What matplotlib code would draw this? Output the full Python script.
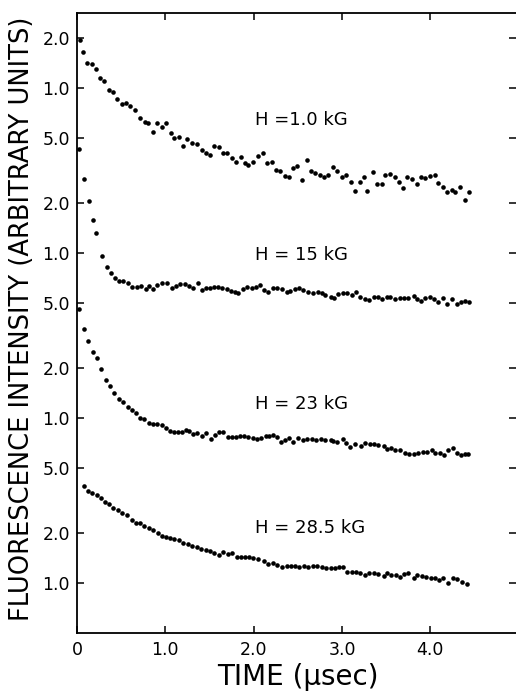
import matplotlib
matplotlib.use("Agg")
import matplotlib.pyplot as plt
from matplotlib.ticker import FixedLocator, FixedFormatter, NullLocator

# ---------------- data ----------------
# H = 1.0 kG
t1 = [0.03, 0.07, 0.11, 0.17, 0.22, 0.26, 0.31, 0.36, 0.41, 0.45,
      0.51, 0.55, 0.60, 0.66, 0.71, 0.77, 0.80, 0.86, 0.91, 0.96,
      1.01, 1.06, 1.10, 1.16, 1.20, 1.25, 1.30, 1.36, 1.42, 1.46,
      1.51, 1.55, 1.61, 1.65, 1.70, 1.76, 1.80, 1.86, 1.90, 1.94,
      1.99, 2.05, 2.11, 2.15, 2.21, 2.25, 2.30, 2.36, 2.40, 2.45,
      2.49, 2.55, 2.60, 2.65, 2.70, 2.75, 2.80, 2.84, 2.90, 2.94,
      3.00, 3.05, 3.10, 3.15, 3.20, 3.25, 3.28, 3.35, 3.40, 3.45,
      3.49, 3.54, 3.60, 3.65, 3.69, 3.74, 3.79, 3.85, 3.90, 3.94,
      4.00, 4.05, 4.09, 4.14, 4.19, 4.24, 4.28, 4.34, 4.39, 4.44]
v1 = [1950, 1650, 1420, 1400, 1300, 1150, 1100, 972, 946, 858,
      800, 811, 778, 736, 658, 622, 614, 541, 614, 580,
      614, 534, 498, 505, 445, 491, 464, 458, 421, 404,
      393, 445, 439, 404, 404, 376, 356, 382, 351, 342,
      356, 387, 404, 351, 356, 318, 314, 293, 289, 327,
      337, 277, 366, 314, 305, 297, 289, 297, 332, 314,
      289, 297, 269, 238, 269, 289, 238, 310, 262, 262,
      297, 301, 289, 269, 248, 289, 281, 262, 289, 285,
      293, 297, 266, 251, 234, 241, 234, 251, 210, 234]

# H = 15 kG
t2 = [0.02, 0.08, 0.14, 0.18, 0.22, 0.28, 0.34, 0.39, 0.43, 0.48,
      0.52, 0.58, 0.62, 0.68, 0.72, 0.78, 0.82, 0.86, 0.91, 0.96,
      1.02, 1.08, 1.12, 1.17, 1.22, 1.27, 1.31, 1.37, 1.42, 1.46,
      1.51, 1.55, 1.60, 1.64, 1.70, 1.74, 1.79, 1.82, 1.88, 1.93,
      1.98, 2.03, 2.07, 2.12, 2.16, 2.22, 2.26, 2.32, 2.38, 2.41,
      2.47, 2.51, 2.56, 2.62, 2.67, 2.73, 2.77, 2.81, 2.87, 2.91,
      2.96, 3.01, 3.06, 3.11, 3.16, 3.20, 3.26, 3.31, 3.36, 3.41,
      3.45, 3.51, 3.54, 3.60, 3.66, 3.70, 3.75, 3.81, 3.85, 3.90,
      3.94, 4.00, 4.04, 4.09, 4.14, 4.19, 4.25, 4.30, 4.35, 4.39, 4.44]
v2 = [427, 281, 207, 158, 132, 95.9, 82.3, 75.6, 70.5, 67.7,
      67.7, 65.8, 62.2, 62.2, 63.1, 60.5, 63.1, 60.5, 64.0, 65.8,
      65.8, 61.4, 63.1, 64.9, 64.9, 63.1, 61.4, 65.8, 59.7, 61.4,
      61.4, 62.2, 62.2, 61.4, 60.5, 58.9, 58.0, 57.2, 60.5, 62.2,
      61.4, 62.2, 64.0, 59.7, 58.0, 61.4, 61.4, 60.5, 58.0, 58.9,
      60.5, 61.4, 59.7, 58.0, 57.2, 58.0, 57.2, 55.7, 54.1, 53.4,
      56.4, 57.2, 57.2, 55.7, 58.0, 54.1, 52.6, 51.9, 54.1, 54.1,
      52.6, 54.1, 54.1, 52.6, 53.4, 53.4, 53.4, 54.9, 52.6, 51.2,
      53.4, 54.1, 52.6, 50.5, 53.4, 49.1, 52.6, 49.1, 50.5, 51.2, 50.5]

# H = 23 kG
t3 = [0.02, 0.08, 0.12, 0.18, 0.23, 0.27, 0.33, 0.37, 0.42, 0.48,
      0.52, 0.58, 0.62, 0.67, 0.71, 0.76, 0.82, 0.86, 0.91, 0.96,
      1.01, 1.05, 1.10, 1.14, 1.19, 1.23, 1.27, 1.31, 1.36, 1.42,
      1.46, 1.52, 1.56, 1.61, 1.65, 1.71, 1.76, 1.80, 1.85, 1.89,
      1.94, 1.99, 2.04, 2.08, 2.14, 2.17, 2.22, 2.26, 2.31, 2.36,
      2.40, 2.45, 2.50, 2.56, 2.60, 2.66, 2.71, 2.76, 2.81, 2.87,
      2.90, 2.94, 3.01, 3.05, 3.09, 3.15, 3.21, 3.26, 3.32, 3.36,
      3.41, 3.47, 3.51, 3.56, 3.60, 3.66, 3.71, 3.76, 3.81, 3.86,
      3.92, 3.96, 4.02, 4.05, 4.11, 4.16, 4.20, 4.26, 4.30, 4.35, 4.39, 4.43]
v3 = [45.8, 34.6, 29.3, 25.1, 23.1, 19.8, 17.0, 15.6, 14.2, 13.0,
      12.5, 11.7, 11.2, 10.7, 10.0, 9.86, 9.32, 9.19, 9.19, 9.07,
      8.70, 8.34, 8.23, 8.23, 8.23, 8.46, 8.34, 8.00, 8.11, 7.78,
      8.11, 7.46, 7.89, 8.23, 8.23, 7.67, 7.67, 7.67, 7.78, 7.78,
      7.67, 7.56, 7.46, 7.56, 7.78, 7.78, 7.89, 7.67, 7.15, 7.36,
      7.56, 7.15, 7.56, 7.36, 7.46, 7.46, 7.36, 7.46, 7.36, 7.36,
      7.25, 7.15, 7.46, 7.05, 6.67, 6.96, 6.77, 7.05, 6.96, 6.96,
      6.86, 6.77, 6.49, 6.58, 6.40, 6.40, 6.14, 6.05, 6.05, 6.14,
      6.22, 6.22, 6.40, 6.14, 6.14, 5.97, 6.40, 6.58, 6.14, 5.97, 6.05, 6.05]

# H = 28.5 kG
t4 = [0.08, 0.12, 0.17, 0.23, 0.27, 0.32, 0.36, 0.41, 0.46, 0.51,
      0.57, 0.62, 0.67, 0.71, 0.76, 0.82, 0.86, 0.92, 0.96, 1.01,
      1.05, 1.10, 1.16, 1.20, 1.26, 1.30, 1.36, 1.40, 1.46, 1.51,
      1.55, 1.61, 1.65, 1.71, 1.76, 1.81, 1.86, 1.90, 1.95, 1.99,
      2.05, 2.12, 2.16, 2.22, 2.26, 2.32, 2.38, 2.42, 2.47, 2.51,
      2.57, 2.62, 2.67, 2.72, 2.77, 2.82, 2.87, 2.92, 2.97, 3.01,
      3.06, 3.11, 3.16, 3.20, 3.26, 3.31, 3.36, 3.41, 3.47, 3.51,
      3.56, 3.61, 3.66, 3.70, 3.75, 3.81, 3.85, 3.91, 3.95, 4.01,
      4.05, 4.10, 4.14, 4.20, 4.26, 4.30, 4.36, 4.41]
v4 = [3.87, 3.61, 3.51, 3.42, 3.27, 3.10, 3.01, 2.85, 2.77, 2.66,
      2.58, 2.41, 2.31, 2.31, 2.22, 2.15, 2.10, 2.01, 1.93, 1.90,
      1.87, 1.85, 1.82, 1.75, 1.72, 1.68, 1.65, 1.61, 1.58, 1.56,
      1.52, 1.48, 1.54, 1.50, 1.52, 1.44, 1.44, 1.44, 1.44, 1.42,
      1.40, 1.36, 1.30, 1.32, 1.29, 1.25, 1.27, 1.27, 1.27, 1.25,
      1.27, 1.25, 1.27, 1.27, 1.25, 1.23, 1.23, 1.23, 1.25, 1.25,
      1.17, 1.17, 1.17, 1.15, 1.12, 1.15, 1.15, 1.13, 1.10, 1.15,
      1.12, 1.12, 1.09, 1.13, 1.15, 1.07, 1.12, 1.10, 1.09, 1.07,
      1.07, 1.04, 1.07, 1.00, 1.07, 1.06, 1.01, 0.986]

series = [(t1, v1), (t2, v2), (t3, v3), (t4, v4)]

labels = ["H =1.0 kG", "H = 15 kG", "H = 23 kG", "H = 28.5 kG"]
label_x = [2.02, 2.02, 2.02, 2.02]
label_y = [644, 96.6, 12.2, 2.14]

y_ticks = [1, 2, 5, 10, 20, 50, 100, 200, 500, 1000, 2000]
y_tick_labels = ["1.0", "2.0", "5.0", "1.0", "2.0", "5.0",
                 "1.0", "2.0", "5.0", "1.0", "2.0"]
x_ticks = [0, 1, 2, 3, 4]
x_tick_labels = ["0", "1.0", "2.0", "3.0", "4.0"]

# ---------------- figure ----------------
plt.rcParams['font.family'] = ['DejaVu Sans']
W, H = 516, 692
fig = plt.figure(figsize=(W / 100, H / 100), dpi=100)
ax = fig.add_axes([77 / W, 1 - 633 / H, 1 - 77 / W, (633 - 13) / H])

for t, v in series:
    ax.plot(t, v, linestyle='none', marker='o', markersize=3.3,
            color='black', markeredgewidth=0)

ax.set_yscale('log')
ax.set_ylim(0.497, 2848)
ax.set_xlim(0, 4.97)

ax.yaxis.set_major_locator(FixedLocator(y_ticks))
ax.yaxis.set_major_formatter(FixedFormatter(y_tick_labels))
ax.yaxis.set_minor_locator(NullLocator())
ax.xaxis.set_major_locator(FixedLocator(x_ticks))
ax.xaxis.set_major_formatter(FixedFormatter(x_tick_labels))

ax.tick_params(axis='both', which='major', direction='in', length=5,
               width=1.1, labelsize=12.5, color='black')
ax.tick_params(axis='y', left=True, right=True, pad=5)
ax.tick_params(axis='x', bottom=True, top=True, pad=6)

for side in ['left', 'top', 'bottom']:
    ax.spines[side].set_linewidth(1.3)
ax.spines['right'].set_visible(False)

for lab, lx, ly in zip(labels, label_x, label_y):
    ax.text(lx, ly, lab, fontsize=13, ha='left', va='center', color='black')

fig.text(22 / W, 1 - 319 / H, "FLUORESCENCE INTENSITY (ARBITRARY UNITS)",
         rotation=90, ha='center', va='center', fontsize=18.5)
fig.text(298 / W, 1 - 677 / H, "TIME (μsec)", ha='center', va='center',
         fontsize=20)

fig.savefig("out.png", dpi=100)
